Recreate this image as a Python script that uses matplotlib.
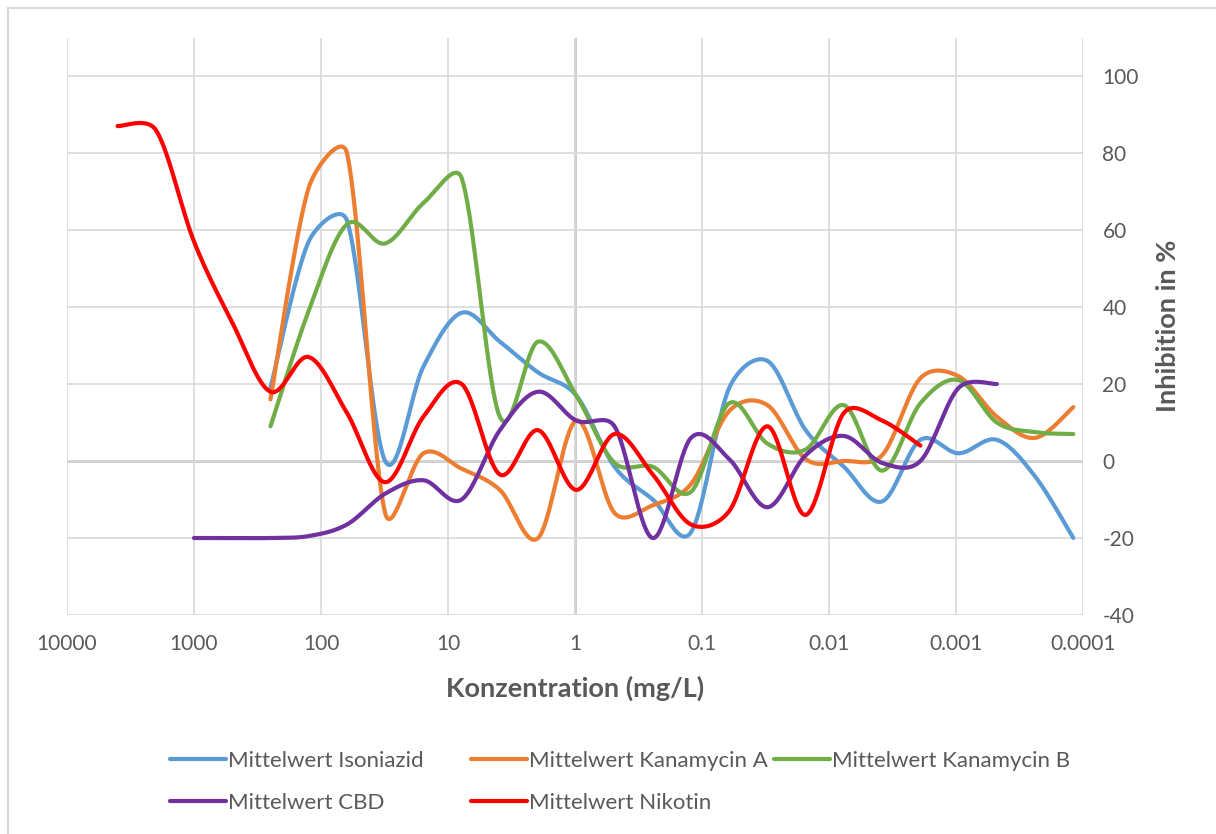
import numpy as np
import matplotlib
matplotlib.use('Agg')
import matplotlib.pyplot as plt
from matplotlib.patches import Rectangle

plt.rcParams['font.family'] = ['Lato', 'DejaVu Sans']
plt.rcParams['axes.unicode_minus'] = False

# 2-fold dilution series (mg/L)
conc = [4000, 2000, 1000, 500, 250, 125, 62.5, 31.25, 15.625, 7.8125, 3.90625,
        1.953125, 0.9765625, 0.48828125, 0.24414063, 0.12207031, 0.06103516,
        0.03051758, 0.01525879, 0.00762939, 0.0038147, 0.00190735, 0.00095367,
        0.00047684, 0.00023842, 0.00011921]

# Inhibition in %
isoniazid = [19, 57, 62.5, 0, 24.5, 38.5, 31, 23, 17, -1.5, -10, -18.5,
             19, 26, 8, -1.5, -10.5, 5.5, 2, 5.5, -4, -20]
kanamycin_a = [16, 71, 80, -13.5, 2, -2, -7.5, -20, 10.5, -13.5, -11.5, -6,
               13, 14.5, 0.5, 0, 1.5, 21.5, 22, 11.5, 6, 14]
kanamycin_b = [9, 39, 61.5, 56.5, 67, 73.5, 11.5, 31, 17, -0.5, -1.5, -8,
               15, 4.5, 3, 14.5, -2.5, 15, 21, 10, 7.5, 7]
cbd = [-20, -20, -20, -19.5, -16.5, -8.5, -5, -10, 8, 18, 10.5, 9,
       -20, 6, 0.5, -12, 1.5, 6.5, -0.5, 0, 19, 20]
nikotin = [87, 86, 57, 36, 18, 27, 12.5, -5.5, 11.5, 20, -3.5, 8,
           -7.5, 7, -3.5, -16.5, -13, 9, -14, 12.5, 10.5, 4]

series = [
    ('Mittelwert Isoniazid', conc[4:26], isoniazid, '#5B9BD5'),
    ('Mittelwert Kanamycin A', conc[4:26], kanamycin_a, '#ED7D31'),
    ('Mittelwert Kanamycin B', conc[4:26], kanamycin_b, '#70AD47'),
    ('Mittelwert CBD', conc[2:24], cbd, '#7030A0'),
    ('Mittelwert Nikotin', conc[0:22], nikotin, '#FF0000'),
]

xticks = [10000, 1000, 100, 10, 1, 0.1, 0.01, 0.001, 0.0001]
xticklabels = ['10000', '1000', '100', '10', '1', '0.1', '0.01', '0.001', '0.0001']
yticks = [-40, -20, 0, 20, 40, 60, 80, 100]

text_col = '#595959'


def smooth(xs, ys, n=40):
    # Excel-like smoothed line: bezier through the points, worked out in
    # screen-like units (127 px per decade, 3.85 px per %) so steep jumps
    # don't overshoot too much
    sc = np.array([127.0, 3.85])
    pts = np.column_stack([np.log10(np.asarray(xs, dtype=float)),
                           np.asarray(ys, dtype=float)]) * sc
    out = []
    for i in range(len(pts) - 1):
        p0 = pts[i - 1] if i > 0 else pts[i]
        p1 = pts[i]
        p2 = pts[i + 1]
        p3 = pts[i + 2] if i + 2 < len(pts) else pts[i + 1]
        d12 = np.hypot(*(p2 - p1))
        d02 = np.hypot(*(p2 - p0))
        d13 = np.hypot(*(p3 - p1))
        f1 = min(1.0, 2.5 * d12 / d02) if d02 > 0 else 1.0
        f2 = min(1.0, 2.5 * d12 / d13) if d13 > 0 else 1.0
        c1 = p1 + (p2 - p0) / 6 * f1
        c2 = p2 - (p3 - p1) / 6 * f2
        t = np.linspace(0, 1, n)[:, None]
        b = (1 - t) ** 3 * p1 + 3 * (1 - t) ** 2 * t * c1 + 3 * (1 - t) * t ** 2 * c2 + t ** 3 * p2
        out.append(b if i == 0 else b[1:])
    out = np.vstack(out) / sc
    return 10 ** out[:, 0], out[:, 1]


fig = plt.figure(figsize=(12.16, 8.34), dpi=100)
ax = fig.add_axes([67 / 1216, 219 / 834, 1016 / 1216, 577.5 / 834])

handles = {}
for name, xs, ys, col in series:
    sx, sy = smooth(xs, ys)
    line, = ax.plot(sx, sy, color=col, lw=3, solid_capstyle='round', label=name, zorder=3)
    handles[name] = line

ax.set_xscale('log')
ax.set_xlim(10000, 0.0001)
ax.set_ylim(-40, 110)
ax.set_xticks(xticks)
ax.set_xticklabels(xticklabels)
ax.xaxis.set_minor_locator(matplotlib.ticker.NullLocator())
ax.set_yticks(yticks)
ax.yaxis.tick_right()
ax.tick_params(length=0, labelsize=15, labelcolor=text_col)
ax.tick_params(axis='x', pad=14)
ax.tick_params(axis='y', pad=14)

ax.grid(True, color='#D9D9D9', lw=1.2, zorder=0)
ax.axhline(0, color='#BFBFBF', lw=1.8, zorder=1)
ax.axvline(1, color='#BFBFBF', lw=1.8, zorder=1)
for s in ax.spines.values():
    s.set_visible(False)

ax.set_xlabel('Konzentration (mg/L)', fontsize=19.5, fontweight='bold', color=text_col, va='center')
ax.xaxis.set_label_coords(0.5, -0.1264)
ax.yaxis.set_label_position('right')
ax.set_ylabel('Inhibition in %', fontsize=19.5, fontweight='bold', color=text_col)
ax.yaxis.label.set_verticalalignment('center')
ax.yaxis.set_label_coords(1.0837, 0.5)

# legend: three equal-width columns like Excel
cols = [(170, ['Mittelwert Isoniazid', 'Mittelwert CBD']),
        (471.5, ['Mittelwert Kanamycin A', 'Mittelwert Nikotin']),
        (774, ['Mittelwert Kanamycin B'])]
for x0, names in cols:
    leg = fig.legend([handles[n] for n in names], names, loc='upper left',
                     bbox_to_anchor=(x0 / 1216, 1 - 751 / 834), frameon=False,
                     fontsize=16, handlelength=2.5, handletextpad=0.1,
                     labelspacing=1.0, borderpad=0, borderaxespad=0)
    for t in leg.get_texts():
        t.set_color(text_col)

fig.patches.append(Rectangle((8 / 1216, -0.1), 2, 1.1 - 8 / 834, transform=fig.transFigure,
                             fill=False, edgecolor='#D9D9D9', lw=1.5))

fig.savefig('out.png', dpi=100)
